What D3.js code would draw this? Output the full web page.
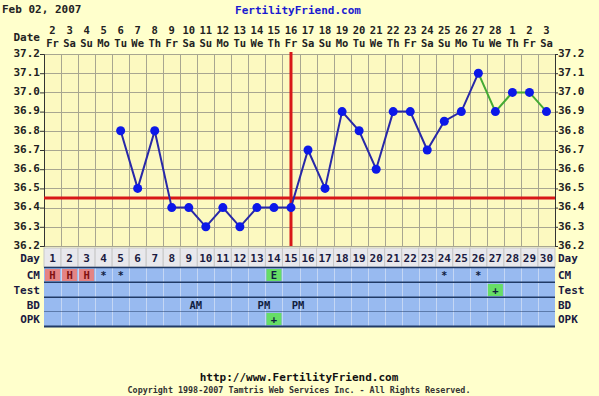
<!DOCTYPE html>
<html>
<head>
<meta charset="utf-8">
<script src="https://cdn.jsdelivr.net/npm/d3@7"></script>
<style>
  body { margin: 0; background: #ffffcc; }
  svg { display: block; }
  text { font-family: "DejaVu Sans Mono", monospace; font-weight: bold; }
</style>
</head>
<body>
<svg id="chart" width="599" height="396"></svg>
<script>
"use strict"

// cycle days and calendar header
const days = d3.range(1, 31)
const dates = [2,3,4,5,6,7,8,9,10,11,12,13,14,15,16,17,18,19,20,21,22,23,24,25,26,27,28,1,2,3]
const weekdays = ["Fr","Sa","Su","Mo","Tu","We","Th","Fr","Sa","Su","Mo","Tu","We","Th","Fr",
                  "Sa","Su","Mo","Tu","We","Th","Fr","Sa","Su","Mo","Tu","We","Th","Fr","Sa"]

// temperatures (day, value)
const tempDays = [5,6,7,8,9,10,11,12,13,14,15,16,17,18,19,20,21,22,23,24,25,26,27,28,29,30]
const temps = [36.8,36.5,36.8,36.4,36.4,36.3,36.4,36.3,36.4,36.4,36.4,36.7,36.5,36.9,36.8,36.6,
               36.9,36.9,36.7,36.85,36.9,37.1,36.9,37.0,37.0,36.9]
const greenFrom = 26 // line segment after this day is drawn green

const yTicks = [36.2,36.3,36.4,36.5,36.6,36.7,36.8,36.9,37.0,37.1,37.2]
const coverline = 36.45
const ovulationDay = 15

// table rows
const rowNames = ["CM", "Test", "BD", "OPK"]
const cmMarks   = [[1,"H"],[2,"H"],[3,"H"],[4,"*"],[5,"*"],[14,"E"],[24,"*"],[26,"*"]]
const testMarks = [[27,"+"]]
const bdMarks   = [[9,"AM"],[13,"PM"],[15,"PM"]]
const opkMarks  = [[14,"+"]]
const rowMarks  = [cmMarks, testMarks, bdMarks, opkMarks]

const svg = d3.select("#chart")

const x = d3.scaleBand().domain(days).range([44, 555])
const y = d3.scaleLinear().domain([36.2, 37.2]).range([246, 54])
const cx = d => x(d) + x.bandwidth() / 2

// titles
svg.append("text").attr("x", 2).attr("y", 13).attr("font-size", 11).attr("fill", "#222")
   .text("Feb 02, 2007")
svg.append("text").attr("x", 298).attr("y", 14).attr("font-size", 11).attr("fill", "#1a1ad0")
   .attr("text-anchor", "middle").text("FertilityFriend.com")

// header dates
svg.append("text").attr("x", 40).attr("y", 41).attr("font-size", 11).attr("fill", "#222")
   .attr("text-anchor", "end").text("Date")
svg.append("g").selectAll("text").data(days).join("text")
   .attr("x", d => cx(d)).attr("y", 34).attr("font-size", 10.5).attr("fill", "#222")
   .attr("text-anchor", "middle").text((d, i) => dates[i])
svg.append("g").selectAll("text").data(days).join("text")
   .attr("x", d => cx(d)).attr("y", 47).attr("font-size", 10.5).attr("fill", "#222")
   .attr("text-anchor", "middle").text((d, i) => weekdays[i])

// plot background + grid
svg.append("rect").attr("x", 44).attr("y", 54).attr("width", 511).attr("height", 192)
   .attr("fill", "#fcf9c0")

const grid = svg.append("g").attr("stroke", "#a8a690").attr("stroke-width", 1)
grid.selectAll("line.v").data(days.slice(1)).join("line").attr("class", "v")
    .attr("x1", d => Math.round(x(d)) + 0.5).attr("x2", d => Math.round(x(d)) + 0.5)
    .attr("y1", 54).attr("y2", 246)
grid.selectAll("line.h").data(yTicks).join("line").attr("class", "h")
    .attr("x1", 44).attr("x2", 555)
    .attr("y1", d => Math.round(y(d)) + 0.5).attr("y2", d => Math.round(y(d)) + 0.5)

// y axes
const fmt = d3.format(".1f")
const left = svg.append("g").attr("transform", "translate(44,0)")
   .call(d3.axisLeft(y).tickValues(yTicks).tickFormat(fmt).tickSize(4))
const right = svg.append("g").attr("transform", "translate(555,0)")
   .call(d3.axisRight(y).tickValues(yTicks).tickFormat(fmt).tickSize(3))
for (const ax of [left, right]) {
    ax.select(".domain").attr("stroke", "#333")
    ax.selectAll(".tick line").attr("stroke", "#333")
    ax.selectAll(".tick text").attr("font-size", 11).attr("fill", "#222")
      .attr("font-family", "DejaVu Sans Mono").attr("font-weight", "bold")
}
left.selectAll(".tick text").attr("x", -4).attr("dy", "0.2em")
right.selectAll(".tick text").attr("x", 3).attr("dy", "0.2em")

// coverline & ovulation line
svg.append("line").attr("x1", 44).attr("x2", 555)
   .attr("y1", y(coverline)).attr("y2", y(coverline))
   .attr("stroke", "#d81818").attr("stroke-width", 3)
svg.append("line").attr("x1", cx(ovulationDay)).attr("x2", cx(ovulationDay))
   .attr("y1", 52).attr("y2", 246)
   .attr("stroke", "#d81818").attr("stroke-width", 3)

// temperature line
const pts = tempDays.map((d, i) => ({ day: d, t: temps[i] }))
const line = d3.line().x(d => cx(d.day)).y(d => y(d.t))
svg.append("path").datum(pts.filter(p => p.day <= greenFrom))
   .attr("d", line).attr("fill", "none").attr("stroke", "#2828a8").attr("stroke-width", 2)
svg.append("path").datum(pts.filter(p => p.day >= greenFrom))
   .attr("d", line).attr("fill", "none").attr("stroke", "#44aa33").attr("stroke-width", 2)
svg.append("g").selectAll("circle").data(pts).join("circle")
   .attr("cx", d => cx(d.day)).attr("cy", d => y(d.t)).attr("r", 4.5)
   .attr("fill", "#0c18e8")

// day row
const dayRow = svg.append("g")
dayRow.selectAll("rect").data(days).join("rect")
   .attr("x", d => x(d)).attr("y", 248).attr("width", x.bandwidth()).attr("height", 19)
   .attr("fill", "#e8e8ec").attr("stroke", "#c8c8c8").attr("stroke-width", 1)
dayRow.selectAll("text").data(days).join("text")
   .attr("x", d => cx(d)).attr("y", 262).attr("font-size", 11).attr("fill", "#1a1a40")
   .attr("text-anchor", "middle").text(d => d)
svg.append("text").attr("x", 40).attr("y", 262).attr("font-size", 11).attr("fill", "#1a1a40")
   .attr("text-anchor", "end").text("Day")
svg.append("text").attr("x", 558).attr("y", 262).attr("font-size", 11).attr("fill", "#1a1a40")
   .text("Day")

// observation rows
const rowTop = [268, 283, 298, 312]
const rowH = 14
const cellColor = v => v == "H" ? "#e48484" : (v == "E" || v == "+") ? "#66dd66" : null

rowNames.forEach((name, r) => {
    const g = svg.append("g")
    g.append("rect").attr("x", 44).attr("y", rowTop[r]).attr("width", 511).attr("height", rowH)
     .attr("fill", "#98baf0")
    g.selectAll("line").data(days.slice(1)).join("line")
     .attr("x1", d => Math.round(x(d)) + 0.5).attr("x2", d => Math.round(x(d)) + 0.5)
     .attr("y1", rowTop[r]).attr("y2", rowTop[r] + rowH)
     .attr("stroke", "#c4d6f4").attr("stroke-width", 1)
    g.selectAll("rect.mark").data(rowMarks[r].filter(m => cellColor(m[1]))).join("rect")
     .attr("class", "mark")
     .attr("x", m => x(m[0]) + 1).attr("y", rowTop[r] + 1)
     .attr("width", x.bandwidth() - 2).attr("height", rowH - 2)
     .attr("fill", m => cellColor(m[1]))
    g.selectAll("text.mark").data(rowMarks[r]).join("text")
     .attr("class", "mark")
     .attr("x", m => cx(m[0]) + (m[1].length > 1 ? 7 : 0)).attr("y", rowTop[r] + 11)
     .attr("font-size", m => m[1] == "*" ? 10 : 10.5)
     .attr("fill", m => m[1] == "H" ? "#801010" : "#102040")
     .attr("text-anchor", "middle").text(m => m[1])
    g.append("line").attr("x1", 44).attr("x2", 555)
     .attr("y1", rowTop[r] + rowH + 0.5).attr("y2", rowTop[r] + rowH + 0.5)
     .attr("stroke", "#203a66").attr("stroke-width", 2)
    svg.append("text").attr("x", 40).attr("y", rowTop[r] + 11).attr("font-size", 11)
       .attr("fill", "#1a1a40").attr("text-anchor", "end").text(name)
    svg.append("text").attr("x", 558).attr("y", rowTop[r] + 11).attr("font-size", 11)
       .attr("fill", "#1a1a40").text(name)
})
svg.append("line").attr("x1", 44).attr("x2", 555).attr("y1", 267.5).attr("y2", 267.5)
   .attr("stroke", "#203a66").attr("stroke-width", 1.5)

// footer
svg.append("text").attr("x", 299).attr("y", 381).attr("font-size", 11).attr("fill", "#111")
   .attr("text-anchor", "middle").text("http://www.FertilityFriend.com")
svg.append("text").attr("x", 299).attr("y", 393).attr("font-size", 8.4).attr("fill", "#333")
   .attr("font-weight", "normal")
   .attr("text-anchor", "middle").text("Copyright 1998-2007 Tamtris Web Services Inc. - All Rights Reserved.")
</script>
</body>
</html>
